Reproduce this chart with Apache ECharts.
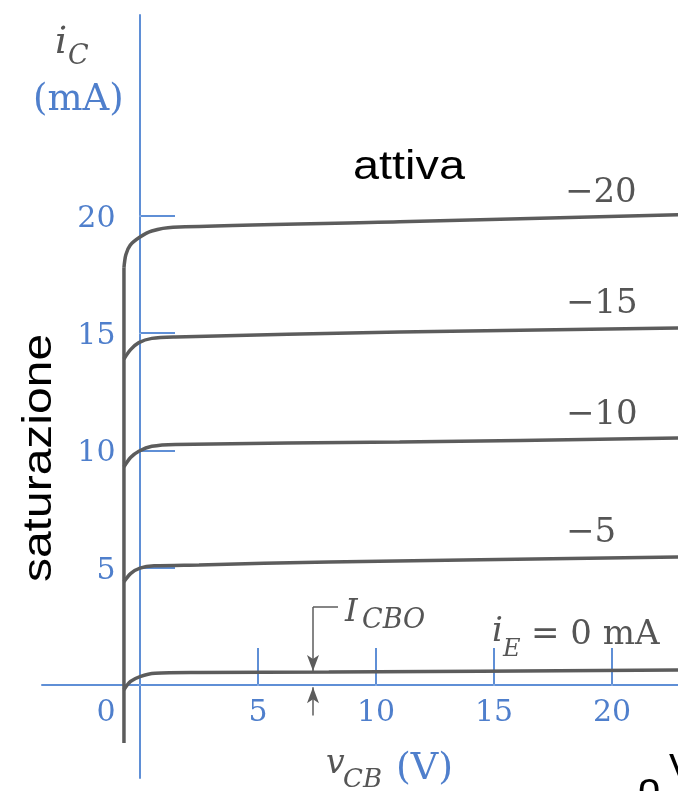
<!DOCTYPE html>
<html>
<head>
<meta charset="utf-8">
<title>Caratteristiche di uscita BJT (base comune)</title>
<script src="https://cdn.jsdelivr.net/npm/echarts@6/dist/echarts.min.js"></script>
<style>
  html, body { margin: 0; padding: 0; background: #ffffff; }
  #chart { width: 678px; height: 791px; }
</style>
</head>
<body>
<div id="chart"></div>
<script>
// Output characteristics i_C(v_CB) for several emitter currents i_E (mA)
const xTicks = [5, 10, 15, 20];
const xLabels = [0, 5, 10, 15, 20];
const yTicks = [5, 10, 15, 20];
const yLabels = [5, 10, 15, 20];
const curveNames = ['−20', '−15', '−10', '−5', 'i_E = 0 mA'];

// common saturation branch (v_CB slightly negative)
const satBranch = [[-0.68, -2.47], [-0.68, 17.8]];

// [v_CB (V), i_C (mA)]
const curveIE20 = [[-0.68, 17.8], [-0.6, 18.35], [-0.42, 18.75], [0, 19.1], [0.5, 19.36], [1.4, 19.52], [11, 19.75], [22.8, 20.05]];
const curveIE15 = [[-0.68, 13.9], [-0.4, 14.3], [-0.05, 14.6], [0.5, 14.78], [1.5, 14.84], [11, 15.05], [22.8, 15.22]];
const curveIE10 = [[-0.68, 9.3], [-0.4, 9.7], [-0.05, 9.97], [0.5, 10.18], [1.5, 10.26], [11, 10.36], [22.8, 10.53]];
const curveIE5  = [[-0.68, 4.4], [-0.4, 4.75], [0, 4.98], [0.6, 5.08], [2.5, 5.12], [8, 5.25], [22.8, 5.46]];
const curveIE0  = [[-0.68, -0.2], [-0.4, 0.15], [0, 0.36], [0.64, 0.5], [2.5, 0.53], [8, 0.55], [22.8, 0.64]];

// I_CBO marker: leader bracket and the two arrows at v_CB ≈ 7.3 V
const icboX = 7.33;
const icboBracket = [[8.39, 3.33], [icboX, 3.33]];
const icboArrowDown = [[icboX, 3.33], [icboX, 0.6]];
const icboArrowUp = [[icboX, -1.3], [icboX, -0.1]];

const BLUE = '#5f8fd6';
const BLUE_TXT = '#4f7fcc';
const GRAY = '#5c5c5c';
const GRAY_TXT = '#555555';
const SERIF = '"DejaVu Serif", "Liberation Serif", serif';
const SANS = '"Liberation Sans", Arial, sans-serif';

const chart = echarts.init(document.getElementById('chart'), null, { renderer: 'canvas' });

function curveSeries(name, data) {
  return {
    name: name,
    type: 'line',
    data: data,
    smooth: 0.3,
    showSymbol: false,
    silent: true,
    lineStyle: { color: GRAY, width: 3.5 },
    z: 3
  };
}

// tick labels drawn next to the axes crossing at the origin
function tickLabelSeries(name, data, labelOpt) {
  return {
    name: name,
    type: 'scatter',
    data: data,
    symbol: 'circle',
    symbolSize: 1,
    silent: true,
    itemStyle: { color: '#ffffff', opacity: 1 },
    label: Object.assign({
      show: true,
      color: BLUE_TXT,
      opacity: 1,
      textBorderWidth: 0,
      fontFamily: SERIF,
      fontSize: 30,
      formatter: function (p) { return p.data.text; }
    }, labelOpt),
    z: 1
  };
}

function txt(text, x, y, font, fill) {
  return {
    type: 'text',
    x: x, y: y,
    silent: true,
    style: { text: text, font: font, fill: fill, align: 'left', verticalAlign: 'middle' }
  };
}

const option = {
  animation: false,
  backgroundColor: '#ffffff',
  grid: { left: 42, right: 0, top: 15, bottom: 13, containLabel: false, outerBoundsMode: 'none' },
  xAxis: {
    type: 'value',
    min: -4.153,
    max: 22.797,
    splitLine: { show: false },
    axisLine: { onZero: true, lineStyle: { color: BLUE, width: 2 } },
    axisTick: {
      inside: true, length: 37, customValues: xTicks,
      lineStyle: { color: BLUE, width: 2 }
    },
    axisLabel: { show: false }
  },
  yAxis: {
    type: 'value',
    min: -3.966,
    max: 28.57,
    splitLine: { show: false },
    axisLine: { onZero: true, lineStyle: { color: BLUE, width: 2 } },
    axisTick: {
      inside: true, length: 35, customValues: yTicks,
      lineStyle: { color: BLUE, width: 2 }
    },
    axisLabel: { show: false }
  },
  series: [
    {
      name: 'saturazione',
      type: 'line',
      data: satBranch,
      showSymbol: false,
      silent: true,
      lineStyle: { color: GRAY, width: 3.5 },
      z: 3
    },
    curveSeries(curveNames[0], curveIE20),
    curveSeries(curveNames[1], curveIE15),
    curveSeries(curveNames[2], curveIE10),
    curveSeries(curveNames[3], curveIE5),
    curveSeries(curveNames[4], curveIE0),
    {
      name: 'I_CBO',
      type: 'line',
      data: icboBracket,
      showSymbol: false,
      silent: true,
      lineStyle: { color: GRAY, width: 1.5 },
      z: 4,
      markLine: {
        silent: true,
        symbol: ['none', 'arrow'],
        symbolSize: [9, 16],
        label: { show: false },
        lineStyle: { color: GRAY, width: 1.5, type: 'solid' },
        data: [
          [{ coord: icboArrowDown[0] }, { coord: icboArrowDown[1] }],
          [{ coord: icboArrowUp[0] }, { coord: icboArrowUp[1] }]
        ]
      }
    },
    tickLabelSeries('x labels',
      xLabels.map(function (v) {
        return v === 0
          ? { value: [v, 0], text: String(v), label: { offset: [-34, 0] } }
          : { value: [v, 0], text: String(v) };
      }),
      { position: 'bottom', distance: 13 }),
    tickLabelSeries('y labels',
      yLabels.map(function (v) { return { value: [0, v], text: String(v) }; }),
      { position: 'left', distance: 24, offset: [0, 3] })
  ],
  graphic: [
    // axis names
    txt('i', 55, 43, 'italic 38px ' + SERIF, GRAY_TXT),
    txt('C', 68, 57, 'italic 27px ' + SERIF, GRAY_TXT),
    txt('(mA)', 33, 100, '37px ' + SERIF, BLUE_TXT),
    txt('v', 326, 764, 'italic 33px ' + SERIF, GRAY_TXT),
    txt('CB', 343, 780, 'italic 26px ' + SERIF, GRAY_TXT),
    txt('(V)', 396, 769, '38px ' + SERIF, BLUE_TXT),
    // curve labels (i_E in mA)
    txt(curveNames[0], 565, 193, '34px ' + SERIF, GRAY_TXT),
    txt(curveNames[1], 566, 304, '34px ' + SERIF, GRAY_TXT),
    txt(curveNames[2], 566, 415, '34px ' + SERIF, GRAY_TXT),
    txt(curveNames[3], 566, 533, '34px ' + SERIF, GRAY_TXT),
    txt('i', 492, 632, 'italic 34px ' + SERIF, GRAY_TXT),
    txt('E', 503, 650, 'italic 24px ' + SERIF, GRAY_TXT),
    txt('= 0 mA', 531, 635, '34px ' + SERIF, GRAY_TXT),
    // I_CBO annotation
    txt('I', 345, 613, 'italic 32px ' + SERIF, GRAY_TXT),
    txt('CBO', 362, 621, 'italic 27px ' + SERIF, GRAY_TXT),
    // region labels
    {
      type: 'text', x: 409, y: 168, silent: true,
      scaleX: 1.17,
      style: { text: 'attiva', font: '40px ' + SANS, fill: '#000000', align: 'center', verticalAlign: 'middle' }
    },
    {
      type: 'text', x: 40, y: 458, silent: true,
      rotation: Math.PI / 2, scaleX: 1.2,
      style: { text: 'saturazione', font: '40px ' + SANS, fill: '#000000', align: 'center', verticalAlign: 'middle' }
    },
    { type: 'text', x: 669, y: 751, silent: true,
      style: { text: 'V', font: '40px ' + SANS, fill: '#000000', align: 'left', verticalAlign: 'top' } },
    { type: 'text', x: 638, y: 770, silent: true,
      style: { text: 'o', font: '40px ' + SANS, fill: '#000000', align: 'left', verticalAlign: 'top' } }
  ]
};

chart.setOption(option);
</script>
</body>
</html>
